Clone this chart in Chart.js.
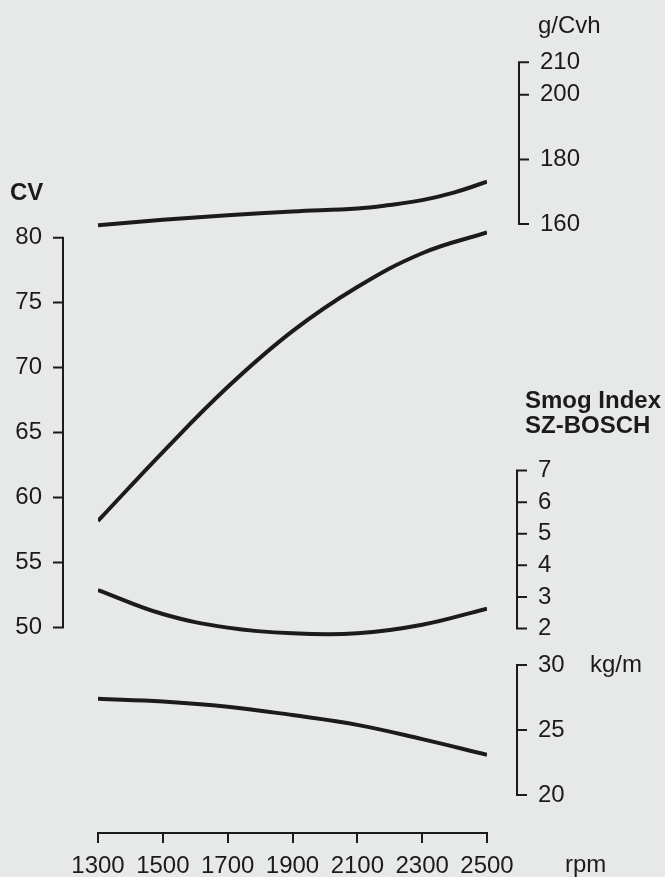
<!DOCTYPE html>
<html lang="it">
<head>
    <meta charset="UTF-8">
    <title>CV - g/Cvh - Smog Index - kg/m</title>
    <script src="https://cdn.jsdelivr.net/npm/chart.js"></script>
    <style>
        body {
            margin: 0;
            background-color: #e7e9e8;
        }
        .chart-container {
            position: relative;
            width: 665px;
            height: 877px;
        }
    </style>
</head>
<body>
    <div class="chart-container">
        <canvas id="chartCanvas"></canvas>
    </div>

    <script>
        // values
        const rpm = [1300, 1500, 1700, 1900, 2100, 2300, 2500];
        const powerCv = [58.2, 63.5, 68.5, 72.8, 76.2, 78.8, 80.4];
        const fuelRpm = [1300, 1500, 1700, 1900, 2100, 2200, 2300, 2400, 2500];
        const fuelGCvh = [159.6, 161.3, 162.7, 163.9, 164.8, 165.9, 167.4, 169.8, 173.1];
        const smogIndex = [3.22, 2.46, 2.03, 1.85, 1.85, 2.12, 2.63];
        const torqueKgm = [27.4, 27.2, 26.8, 26.15, 25.4, 24.3, 23.1];

        // tick labels
        const rpmTicks = [1300, 1500, 1700, 1900, 2100, 2300, 2500];
        const cvTicks = [50, 55, 60, 65, 70, 75, 80];
        const fuelTicks = [160, 180, 200, 210];
        const smogTicks = [2, 3, 4, 5, 6, 7];
        const torqueTicks = [20, 25, 30];

        const ink = '#1b1b1b';
        const font = '"Liberation Sans", Arial, sans-serif';

        const toPoints = (xs, ys) => xs.map((x, i) => ({ x: x, y: ys[i] }));

        function curve(data, axis) {
            return {
                data: data,
                yAxisID: axis,
                borderColor: ink,
                borderWidth: 4,
                pointRadius: 0,
                fill: false,
                tension: 0.4,
                borderCapStyle: 'butt'
            };
        }

        // bracket-style axes, drawn against the chart's own scales
        function drawBracket(ctx, scale, x, ticks, dir) {
            const lo = scale.getPixelForValue(Math.min(...ticks));
            const hi = scale.getPixelForValue(Math.max(...ticks));
            ctx.beginPath();
            ctx.moveTo(x, hi);
            ctx.lineTo(x, lo);
            ticks.forEach(t => {
                const y = scale.getPixelForValue(t);
                ctx.moveTo(x, y);
                ctx.lineTo(x + dir * 9, y);
            });
            ctx.stroke();
            ticks.forEach(t => {
                const y = scale.getPixelForValue(t);
                if (dir < 0) {
                    ctx.textAlign = 'right';
                    ctx.fillText(t, x - 21, y);
                } else {
                    ctx.textAlign = 'left';
                    ctx.fillText(t, x + 21, y);
                }
            });
        }

        const bracketAxes = {
            id: 'bracketAxes',
            afterDraw(chart) {
                const ctx = chart.ctx;
                const s = chart.scales;
                ctx.save();
                ctx.strokeStyle = ink;
                ctx.fillStyle = ink;
                ctx.lineWidth = 2;
                ctx.lineCap = 'square';
                ctx.textBaseline = 'middle';
                ctx.font = '24px ' + font;

                drawBracket(ctx, s.yCv, 63, cvTicks, -1);
                drawBracket(ctx, s.yFuel, 519, fuelTicks, 1);
                drawBracket(ctx, s.ySmog, 517, smogTicks, 1);
                drawBracket(ctx, s.yTorque, 517, torqueTicks, 1);

                ctx.textAlign = 'left';
                ctx.fillText('g/Cvh', 538, 26);
                ctx.fillText('kg/m', 590, s.yTorque.getPixelForValue(30));
                ctx.fillText('rpm', 565, 865);

                ctx.font = 'bold 24px ' + font;
                ctx.fillText('CV', 10, 193);
                ctx.fillText('Smog Index', 525, 401);
                ctx.fillText('SZ-BOSCH', 525, 426);
                ctx.restore();
            }
        };

        const chartCanvas = document.getElementById('chartCanvas');

        new Chart(chartCanvas, {
            type: 'line',
            data: {
                datasets: [
                    curve(toPoints(rpm, powerCv), 'yCv'),
                    curve(toPoints(fuelRpm, fuelGCvh), 'yFuel'),
                    curve(toPoints(rpm, smogIndex), 'ySmog'),
                    curve(toPoints(rpm, torqueKgm), 'yTorque')
                ]
            },
            options: {
                responsive: true,
                maintainAspectRatio: false,
                animation: false,
                devicePixelRatio: 1,
                layout: { padding: { left: 98, right: 178, top: 20, bottom: 0 } },
                plugins: {
                    legend: { display: false },
                    tooltip: { enabled: false }
                },
                scales: {
                    x: {
                        type: 'linear',
                        min: 1300,
                        max: 2500,
                        afterBuildTicks: scale => {
                            scale.ticks = rpmTicks.map(v => ({ value: v }));
                        },
                        afterFit: scale => { scale.height = 44; },
                        border: { display: true, color: ink, width: 2 },
                        grid: {
                            drawOnChartArea: false,
                            drawTicks: true,
                            tickLength: 10,
                            color: ink,
                            lineWidth: 2
                        },
                        ticks: {
                            color: ink,
                            padding: 9,
                            maxRotation: 0,
                            autoSkip: false,
                            callback: v => String(v),
                            font: { family: font, size: 24 }
                        }
                    },
                    yCv: { type: 'linear', display: false, min: 34.18, max: 96.75 },
                    yFuel: { type: 'linear', display: false, min: -28.3, max: 223.1 },
                    ySmog: { type: 'linear', display: false, min: -4.47, max: 21.26 },
                    yTorque: { type: 'linear', display: false, min: 17.08, max: 79.62 }
                }
            },
            plugins: [bracketAxes]
        });
    </script>
</body>
</html>
